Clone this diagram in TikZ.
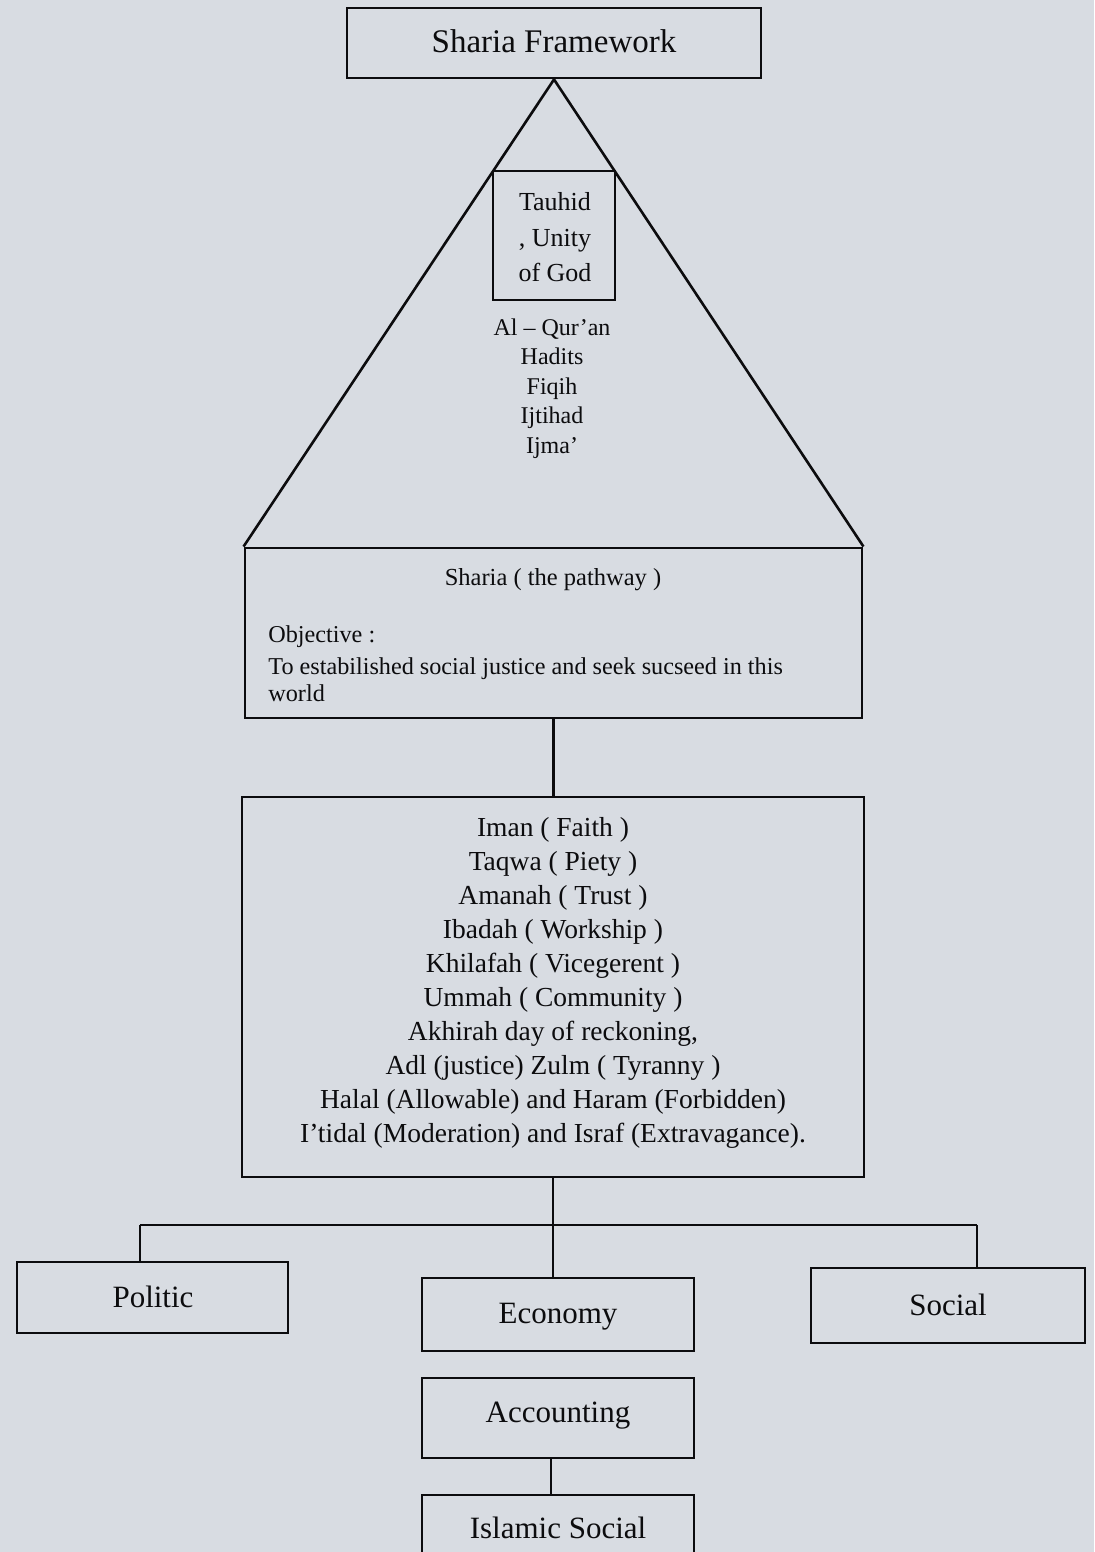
\documentclass[tikz,border=0pt]{standalone}
\usepackage{fontspec}
\setmainfont{Liberation Serif}
\usetikzlibrary{fit}
\definecolor{paper}{RGB}{216,220,226}
\definecolor{ink}{RGB}{12,12,14}
\begin{document}
\begin{tikzpicture}[x=0.5pt,y=-0.5pt,
  box/.style={draw=ink, line width=1.45pt, inner sep=0pt},
  txt/.style={inner sep=0pt, anchor=base, text=ink},
  txtw/.style={inner sep=0pt, anchor=base west, text=ink},
  link/.style={draw=ink, line width=1.3pt}]
\fill[paper] (0,0) rectangle (1094,1552);
\clip (0,0) rectangle (1094,1552);
% boxes
\node[box, fit={(347,8) (761,78)}] (title) {};
\node[box, fit={(245,548) (862,718)}] (pathway) {};
\node[box, fit={(493,171) (615,300)}] (tauhid) {};
\node[box, fit={(242,797) (864,1177)}] (list) {};
\node[box, fit={(17,1262) (288,1333)}] (politic) {};
\node[box, fit={(422,1278) (694,1351)}] (economy) {};
\node[box, fit={(811,1268) (1085,1343)}] (social) {};
\node[box, fit={(422,1378) (694,1458)}] (accounting) {};
\node[box, fit={(422,1495) (694,1580)}] (islamic) {};
% triangle
\draw[link, line join=miter] (pathway.north west) -- (title.south) -- (pathway.north east);
% connectors
\draw[link] (pathway.south) -- (pathway.south |- list.north);
\coordinate (busL) at (140,1225);
\coordinate (busR) at (977,1225);
\draw[link] (list.south) -- (list.south |- economy.north);
\draw[link] (busL) -- (busR);
\draw[link] (busL) -- (busL |- politic.north);
\draw[link] (busR) -- (busR |- social.north);
\draw[link] ([xshift=-3.5pt]accounting.south) -- ([xshift=-3.5pt]islamic.north);
% texts
\node[txt, font=\fontsize{16.5}{19}\selectfont] (ttitle) at (554,53) {Sharia Framework};
\node[txt, font=\fontsize{13}{15}\selectfont] (t1) at (555,210) {Tauhid};
\node[txt, font=\fontsize{13}{15}\selectfont] (t2) at (555,246.5) {, Unity};
\node[txt, font=\fontsize{13}{15}\selectfont] (t3) at (555,281) {of God};
\node[txt, font=\fontsize{12}{14}\selectfont] (s1) at (552,335) {Al – Qur’an};
\node[txt, font=\fontsize{12}{14}\selectfont] (s2) at (552,364.6) {Hadits};
\node[txt, font=\fontsize{12}{14}\selectfont] (s3) at (552,394.2) {Fiqih};
\node[txt, font=\fontsize{12}{14}\selectfont] (s4) at (552,423.8) {Ijtihad};
\node[txt, font=\fontsize{12}{14}\selectfont] (s5) at (552,453.3) {Ijma’};
\node[txt, font=\fontsize{12.25}{14}\selectfont] (p1) at (553,585) {Sharia ( the pathway )};
\node[txtw, font=\fontsize{12.1}{14}\selectfont] (o1) at (268,642) {Objective :};
\node[txtw, font=\fontsize{12.1}{14}\selectfont] (o2) at (268,674) {To estabilished social justice and seek sucseed in this};
\node[txtw, font=\fontsize{12.1}{14}\selectfont] (o3) at (268,701) {world};
\begin{scope}[every node/.style={txt, font=\fontsize{13.75}{16}\selectfont}]
\node (l1) at (553,836.7) {Iman ( Faith )};
\node (l2) at (553,870.7) {Taqwa ( Piety )};
\node (l3) at (553,904.7) {Amanah ( Trust )};
\node (l4) at (553,938.7) {Ibadah ( Workship )};
\node (l5) at (553,972.7) {Khilafah ( Vicegerent )};
\node (l6) at (553,1006.7) {Ummah ( Community )};
\node (l7) at (553,1040.7) {Akhirah day of reckoning,};
\node (l8) at (553,1074.7) {Adl (justice) Zulm ( Tyranny )};
\node (l9) at (553,1108.7) {Halal (Allowable) and Haram (Forbidden)};
\node (l10) at (553,1142.7) {I’tidal (Moderation) and Israf (Extravagance).};
\end{scope}
\begin{scope}[every node/.style={txt, font=\fontsize{15.5}{18}\selectfont}]
\node (tpol) at (153,1307) {Politic};
\node (teco) at (558,1323) {Economy};
\node (tsoc) at (948,1315) {Social};
\node (tacc) at (558,1422) {Accounting};
\node (tisl) at (558,1538) {Islamic Social};
\end{scope}
\end{tikzpicture}
\end{document}
